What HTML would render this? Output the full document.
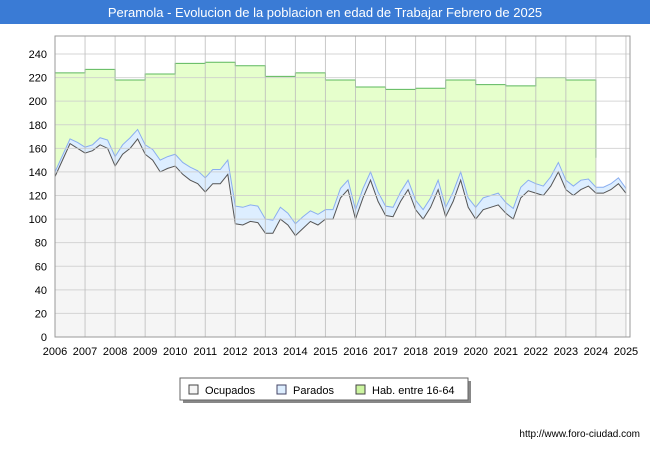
<!DOCTYPE html>
<html><head><meta charset="utf-8"><style>
body{margin:0;width:650px;height:450px;background:#fff;font-family:"Liberation Sans",sans-serif;overflow:hidden}
</style></head><body>
<svg width="650" height="450" xmlns="http://www.w3.org/2000/svg">
<rect x="0" y="0" width="650" height="24" fill="#3a7bd5"/>
<text x="325" y="17" text-anchor="middle" fill="#fff" font-size="13">Peramola - Evolucion de la poblacion en edad de Trabajar Febrero de 2025</text>
<rect x="55" y="36" width="575" height="301" fill="#fff" stroke="#999"/>
<g id="series"></g><g id="grid"></g><g id="axes"></g>
<g>
<rect x="183" y="381" width="288" height="22" fill="#888"/>
<rect x="180" y="378" width="288" height="22" fill="#fff" stroke="#666"/>
<rect x="189" y="385" width="9" height="9" fill="#f5f5f5" stroke="#444"/>
<text x="205" y="394" font-size="11">Ocupados</text>
<rect x="277" y="385" width="9" height="9" fill="#ddeeff" stroke="#446"/>
<text x="293" y="394" font-size="11">Parados</text>
<rect x="356" y="385" width="9" height="9" fill="#ccf5a0" stroke="#444"/>
<text x="372" y="394" font-size="11">Hab. entre 16-64</text>
</g>
<text x="640" y="437" text-anchor="end" font-size="10">http://www.foro-ciudad.com</text>
</svg>
<script>
const years=[2006,2007,2008,2009,2010,2011,2012,2013,2014,2015,2016,2017,2018,2019,2020,2021,2022,2023,2024,2025];
const yTicks=[0,20,40,60,80,100,120,140,160,180,200,220,240];
const habValues=[224,227,218,223,232,233,230,221,224,218,212,210,211,218,214,213,220,218];
const habEnd=152;
const ocupados=[136,150,164,160,156,158,163,160,145,155,160,168,155,150,140,143,145,138,133,130,123,130,130,138,96,95,98,97,88,88,100,95,86,92,98,95,100,100,118,125,100,118,133,115,103,102,115,125,108,100,110,125,102,115,133,110,100,108,110,112,105,100,118,124,122,120,128,140,125,120,125,128,122,122,125,130,122];
const parados=[4,4,4,5,5,5,6,7,8,8,9,8,8,9,10,10,10,10,11,11,12,12,12,12,15,15,14,14,12,11,10,10,10,10,9,9,8,8,8,8,8,8,7,8,8,8,8,8,8,8,8,8,8,8,7,8,10,10,10,10,9,9,9,9,8,8,8,8,8,8,8,6,5,5,5,5,4];
const NS="http://www.w3.org/2000/svg";
const X=v=>55+(v-2006)*30.05, Y=v=>337-v*283/240;
function mk(t,a,p){const e=document.createElementNS(NS,t);for(const k in a)e.setAttribute(k,a[k]);p.appendChild(e);return e;}
const grid=document.getElementById('grid'),ser=document.getElementById('series'),ax=document.getElementById('axes');
yTicks.forEach(t=>{const l=mk('line',{x1:55,x2:630,y1:Y(t),y2:Y(t),stroke:'#ccc','stroke-opacity':0.8},grid);

const tx=mk('text',{x:47,y:Y(t)+4,'text-anchor':'end','font-size':11},ax);tx.textContent=t;
});
years.forEach(yr=>{const l=mk('line',{x1:X(yr),x2:X(yr),y1:36,y2:337,stroke:'#bbb','stroke-opacity':0.8},grid);

const tx=mk('text',{x:X(yr),y:355,'text-anchor':'middle','font-size':11},ax);tx.textContent=yr;
});
let hp='M'+X(2006)+','+Y(habValues[0]);
habValues.forEach((v,i)=>{hp+=' L'+X(2006+i)+','+Y(v)+' L'+X(2007+i)+','+Y(v);});
const hEnd=X(2006+habValues.length);
hp+=' L'+hEnd+','+Y(habEnd);
const hab=mk('path',{d:hp+' L'+hEnd+',337 L55,337 Z',fill:'#e6ffcc'},ser);

const habL=mk('path',{d:hp,fill:'none',stroke:'#5cb85c'},ser);

const xs=ocupados.map((_,i)=>X(2006+i/4));
const tot=ocupados.map((v,i)=>v+parados[i]);
const last=xs[xs.length-1];
const tp=tot.map((v,i)=>(i?'L':'M')+xs[i]+','+Y(v)).join(' ');
const op=ocupados.map((v,i)=>(i?'L':'M')+xs[i]+','+Y(v)).join(' ');
const pa=mk('path',{d:tp+' L'+last+',337 L55,337 Z',fill:'#ddeeff'},ser);

const pl=mk('path',{d:tp,fill:'none',stroke:'#8aaef0'},ser);

const oa=mk('path',{d:op+' L'+last+',337 L55,337 Z',fill:'#f5f5f5'},ser);

const ol=mk('path',{d:op,fill:'none',stroke:'#555'},ser);

const fr=mk('rect',{x:55,y:36,width:575,height:301,fill:'none',stroke:'#999'},ax);

</script>
</body></html>
